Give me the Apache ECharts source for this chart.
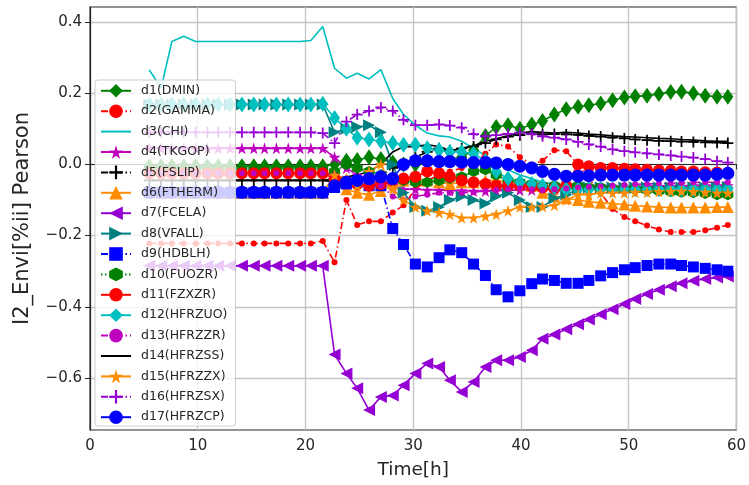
<!DOCTYPE html>
<html>
<head>
<meta charset="utf-8">
<script src="https://cdn.jsdelivr.net/npm/echarts@6/dist/echarts.min.js"></script>
<style>
  html, body { margin: 0; padding: 0; background: #ffffff; }
  #chart { width: 749px; height: 485px; }
</style>
</head>
<body>
<div id="chart"></div>
<script>
// Sampling times (hours)
const time = [5.5, 6.6, 7.6, 8.7, 9.8, 10.9, 11.9, 13.0, 14.1, 15.2, 16.2, 17.3, 18.4, 19.5, 20.5, 21.6,
  22.7, 23.8, 24.8, 25.9, 27.0, 28.1, 29.1, 30.2, 31.3, 32.4, 33.4, 34.5, 35.6, 36.7, 37.7, 38.8,
  39.9, 41.0, 42.0, 43.1, 44.2, 45.3, 46.3, 47.4, 48.5, 49.6, 50.6, 51.7, 52.8, 53.9, 54.9, 56.0,
  57.1, 58.2, 59.2];

const seriesNames = ['d1(DMIN)', 'd2(GAMMA)', 'd3(CHI)', 'd4(TKGOP)', 'd5(FSLIP)', 'd6(FTHERM)',
  'd7(FCELA)', 'd8(VFALL)', 'd9(HDBLH)', 'd10(FUOZR)', 'd11(FZXZR)', 'd12(HFRZUO)', 'd13(HFRZZR)',
  'd14(HFRZSS)', 'd15(HFRZZX)', 'd16(HFRZSX)', 'd17(HFRZCP)'];

// Pearson correlation of each driver with I2_Envi
const d1 = [-0.005, -0.005, -0.005, -0.005, -0.005, -0.005, -0.005, -0.005, -0.005, -0.005, -0.005, -0.005, -0.005, -0.005, -0.005, -0.005,
  0.0, 0.01, 0.012, 0.02, 0.015, 0.005, 0.0, 0.0, 0.005, 0.01, 0.015, 0.02, 0.04, 0.08, 0.105, 0.11,
  0.1, 0.112, 0.122, 0.14, 0.155, 0.162, 0.166, 0.171, 0.18, 0.188, 0.191, 0.193, 0.198, 0.203, 0.204, 0.2,
  0.193, 0.19, 0.19];
const d2 = [-0.222, -0.222, -0.222, -0.222, -0.222, -0.222, -0.222, -0.222, -0.222, -0.222, -0.222, -0.222, -0.222, -0.222, -0.222, -0.215,
  -0.275, -0.1, -0.17, -0.16, -0.16, -0.135, -0.115, -0.07, -0.045, -0.03, -0.02, -0.01, 0.0, 0.03, 0.056, 0.05,
  0.02, 0.0, 0.01, 0.04, 0.037, 0.0, -0.04, -0.08, -0.125, -0.148, -0.16, -0.172, -0.183, -0.19, -0.19, -0.19,
  -0.185, -0.178, -0.17];
const d3 = [0.265, 0.215, 0.345, 0.36, 0.345, 0.345, 0.345, 0.345, 0.345, 0.345, 0.345, 0.345, 0.345, 0.345, 0.348, 0.387,
  0.27, 0.242, 0.256, 0.24, 0.266, 0.185, 0.14, 0.11, 0.088, 0.08, 0.077, 0.065, 0.045, 0.025, 0.005, -0.015,
  -0.03, -0.04, -0.05, -0.055, -0.06, -0.062, -0.065, -0.066, -0.068, -0.068, -0.07, -0.07, -0.07, -0.07, -0.071, -0.071,
  -0.072, -0.072, -0.072];
const d4 = [0.045, 0.045, 0.045, 0.045, 0.045, 0.045, 0.045, 0.045, 0.045, 0.045, 0.045, 0.045, 0.045, 0.045, 0.045, 0.045,
  0.02, -0.01, -0.03, -0.04, -0.045, -0.06, -0.07, -0.07, -0.072, -0.072, -0.074, -0.074, -0.075, -0.075, -0.074, -0.073,
  -0.072, -0.072, -0.071, -0.07, -0.07, -0.068, -0.067, -0.066, -0.065, -0.064, -0.063, -0.062, -0.062, -0.061, -0.061, -0.06,
  -0.06, -0.06, -0.06];
const d5 = [-0.045, -0.045, -0.045, -0.045, -0.045, -0.045, -0.045, -0.045, -0.045, -0.045, -0.045, -0.045, -0.045, -0.045, -0.045, -0.045,
  -0.05, -0.045, -0.04, -0.035, -0.03, -0.01, 0.0, 0.02, 0.035, 0.045, 0.04, 0.045, 0.05, 0.06, 0.07, 0.078,
  0.082, 0.085, 0.085, 0.085, 0.084, 0.083, 0.08, 0.078, 0.075, 0.073, 0.07, 0.068, 0.066, 0.065, 0.064, 0.063,
  0.062, 0.061, 0.06];
const d6 = [-0.08, -0.08, -0.08, -0.08, -0.08, -0.08, -0.08, -0.08, -0.08, -0.08, -0.08, -0.08, -0.08, -0.08, -0.08, -0.08,
  -0.06, -0.07, -0.08, -0.085, -0.075, -0.05, -0.045, -0.04, -0.045, -0.05, -0.055, -0.05, -0.05, -0.045, -0.045, -0.05,
  -0.05, -0.06, -0.08, -0.09, -0.095, -0.1, -0.105, -0.108, -0.11, -0.113, -0.116, -0.118, -0.12, -0.121, -0.121, -0.121,
  -0.121, -0.12, -0.12];
const d7 = [-0.285, -0.285, -0.285, -0.285, -0.285, -0.285, -0.285, -0.285, -0.285, -0.285, -0.285, -0.285, -0.285, -0.285, -0.285, -0.285,
  -0.534, -0.587, -0.629, -0.69, -0.653, -0.649, -0.62, -0.587, -0.559, -0.569, -0.606, -0.639, -0.611, -0.569, -0.55, -0.55,
  -0.541, -0.522, -0.49, -0.478, -0.463, -0.449, -0.436, -0.421, -0.407, -0.392, -0.378, -0.364, -0.352, -0.342, -0.334, -0.327,
  -0.322, -0.318, -0.315];
const d8 = [0.168, 0.168, 0.168, 0.168, 0.168, 0.168, 0.168, 0.168, 0.168, 0.168, 0.168, 0.168, 0.168, 0.168, 0.168, 0.168,
  0.09, 0.1, 0.105, 0.11, 0.09, 0.0, -0.08, -0.12, -0.13, -0.12, -0.1, -0.09, -0.1, -0.11, -0.09, -0.08,
  -0.1, -0.12, -0.12, -0.095, -0.085, -0.07, -0.065, -0.065, -0.065, -0.065, -0.065, -0.065, -0.065, -0.065, -0.065, -0.065,
  -0.065, -0.065, -0.065];
const d9 = [-0.08, -0.08, -0.08, -0.08, -0.08, -0.08, -0.08, -0.08, -0.08, -0.08, -0.08, -0.08, -0.08, -0.08, -0.08, -0.08,
  -0.065, -0.055, -0.05, -0.06, -0.06, -0.18, -0.225, -0.28, -0.288, -0.262, -0.24, -0.248, -0.28, -0.312, -0.352, -0.372,
  -0.355, -0.335, -0.322, -0.326, -0.334, -0.334, -0.326, -0.313, -0.304, -0.296, -0.29, -0.284, -0.28, -0.28, -0.284, -0.288,
  -0.292, -0.296, -0.3];
const d10 = [-0.01, -0.01, -0.01, -0.01, -0.01, -0.01, -0.01, -0.01, -0.01, -0.01, -0.01, -0.01, -0.01, -0.01, -0.01, -0.01,
  -0.02, 0.0, -0.01, -0.02, -0.03, -0.04, -0.045, -0.05, -0.05, -0.045, -0.04, -0.035, -0.02, -0.015, -0.03, -0.045,
  -0.05, -0.055, -0.06, -0.06, -0.06, -0.06, -0.065, -0.065, -0.068, -0.07, -0.07, -0.072, -0.075, -0.077, -0.078, -0.08,
  -0.082, -0.085, -0.085];
const d11 = [-0.025, -0.025, -0.025, -0.025, -0.025, -0.025, -0.025, -0.025, -0.025, -0.025, -0.025, -0.025, -0.025, -0.025, -0.025, -0.025,
  -0.04, -0.05, -0.055, -0.06, -0.055, -0.045, -0.04, -0.035, -0.02, -0.025, -0.035, -0.045, -0.05, -0.055, -0.06, -0.06,
  -0.06, -0.062, -0.065, -0.068, -0.06, 0.0, -0.005, -0.01, -0.01, -0.012, -0.014, -0.015, -0.017, -0.018, -0.02, -0.02,
  -0.022, -0.023, -0.025];
const d12 = [0.168, 0.168, 0.168, 0.168, 0.168, 0.168, 0.168, 0.168, 0.168, 0.168, 0.168, 0.168, 0.168, 0.168, 0.168, 0.17,
  0.13, 0.1, 0.075, 0.07, 0.065, 0.06, 0.055, 0.055, 0.045, 0.04, 0.035, 0.035, 0.03, 0.01, -0.02, -0.04,
  -0.05, -0.055, -0.06, -0.065, -0.07, -0.07, -0.07, -0.07, -0.07, -0.07, -0.07, -0.07, -0.07, -0.07, -0.07, -0.07,
  -0.07, -0.07, -0.07];
const d13 = [-0.025, -0.025, -0.025, -0.025, -0.025, -0.025, -0.025, -0.025, -0.025, -0.025, -0.025, -0.025, -0.025, -0.025, -0.025, -0.025,
  -0.03, -0.04, -0.045, -0.05, -0.06, -0.09, -0.1, -0.09, -0.085, -0.08, -0.08, -0.08, -0.078, -0.075, -0.072, -0.07,
  -0.068, -0.07, -0.072, -0.07, -0.068, -0.065, -0.063, -0.062, -0.06, -0.058, -0.056, -0.055, -0.054, -0.053, -0.052, -0.051,
  -0.05, -0.05, -0.05];
const d14 = [-0.045, -0.045, -0.045, -0.045, -0.045, -0.045, -0.045, -0.045, -0.045, -0.045, -0.045, -0.045, -0.045, -0.045, -0.045, -0.045,
  -0.04, -0.035, -0.03, -0.02, 0.0, 0.035, 0.05, 0.05, 0.055, 0.05, 0.038, 0.045, 0.052, 0.065, 0.072, 0.08,
  0.088, 0.092, 0.09, 0.088, 0.09, 0.088, 0.085, 0.083, 0.08, 0.078, 0.077, 0.075, 0.073, 0.072, 0.07, 0.068,
  0.066, 0.065, 0.065];
const d15 = [-0.08, -0.08, -0.08, -0.08, -0.08, -0.08, -0.08, -0.08, -0.08, -0.08, -0.08, -0.08, -0.08, -0.08, -0.08, -0.08,
  -0.03, -0.04, -0.06, -0.02, 0.0, -0.07, -0.1, -0.12, -0.13, -0.135, -0.14, -0.15, -0.15, -0.145, -0.14, -0.13,
  -0.12, -0.12, -0.118, -0.115, -0.1, -0.085, -0.085, -0.08, -0.08, -0.08, -0.078, -0.078, -0.076, -0.075, -0.075, -0.076,
  -0.078, -0.08, -0.08];
const d16 = [0.09, 0.09, 0.09, 0.09, 0.09, 0.09, 0.09, 0.09, 0.09, 0.09, 0.09, 0.09, 0.09, 0.09, 0.09, 0.088,
  0.06, 0.12, 0.14, 0.15, 0.16, 0.15, 0.125, 0.11, 0.11, 0.112, 0.109, 0.103, 0.085, 0.079, 0.082, 0.086,
  0.089, 0.085, 0.079, 0.075, 0.07, 0.063, 0.056, 0.05, 0.042, 0.037, 0.034, 0.031, 0.028, 0.025, 0.022, 0.019,
  0.015, 0.009, 0.005];
const d17 = [-0.078, -0.078, -0.078, -0.078, -0.078, -0.078, -0.078, -0.078, -0.078, -0.078, -0.078, -0.078, -0.078, -0.078, -0.078, -0.078,
  -0.06, -0.05, -0.045, -0.04, -0.035, -0.04, 0.0, 0.01, 0.01, 0.008, 0.008, 0.006, 0.005, 0.005, 0.004, 0.0,
  -0.005, -0.01, -0.02, -0.028, -0.033, -0.033, -0.032, -0.03, -0.03, -0.03, -0.03, -0.03, -0.03, -0.03, -0.03, -0.03,
  -0.03, -0.028, -0.025];

const xTicks = [0, 10, 20, 30, 40, 50, 60];
const yTicks = [-0.6, -0.4, -0.2, 0.0, 0.2, 0.4];

// Marker shapes
const STAR = 'path://M50,0 L61,35 L98,35 L68,57 L79,91 L50,70 L21,91 L32,57 L2,35 L39,35 Z';
const PLUS = 'path://M42,0 H58 V42 H100 V58 H58 V100 H42 V58 H0 V42 H42 Z';
const HEX = 'path://M50,0 L93,25 L93,75 L50,100 L7,75 L7,25 Z';
const DASHDOT = [7, 3, 1.5, 3];
const DOTTED = [1.5, 2.5];

const styles = [
  { values: d1,  color: '#008000', symbol: 'diamond',  size: [11, 16], line: 'solid' },
  { values: d2,  color: '#ff0000', symbol: 'circle',   size: 6,        line: DASHDOT },
  { values: d3,  color: '#00bfbf', symbol: 'none',     size: 0,        line: 'solid' },
  { values: d4,  color: '#bf00bf', symbol: STAR,       size: 12,       line: 'solid' },
  { values: d5,  color: '#000000', symbol: PLUS,       size: 11,       line: DASHDOT },
  { values: d6,  color: '#ff8c00', symbol: 'triangle', size: 12,       line: 'solid' },
  { values: d7,  color: '#9400d3', symbol: 'triangle', size: 12,       line: 'solid', rotate: 90 },
  { values: d8,  color: '#008080', symbol: 'triangle', size: 12,       line: 'solid', rotate: -90 },
  { values: d9,  color: '#0000ff', symbol: 'rect',     size: 11,       line: DASHDOT },
  { values: d10, color: '#008000', symbol: HEX,        size: 11,       line: DOTTED },
  { values: d11, color: '#ff0000', symbol: 'circle',   size: 12,       line: 'solid' },
  { values: d12, color: '#00bfbf', symbol: 'diamond',  size: [11, 16], line: 'solid' },
  { values: d13, color: '#bf00bf', symbol: 'circle',   size: 6,        line: DASHDOT },
  { values: d14, color: '#000000', symbol: 'none',     size: 0,        line: 'solid' },
  { values: d15, color: '#ff8c00', symbol: STAR,       size: 12,       line: 'solid' },
  { values: d16, color: '#9400d3', symbol: PLUS,       size: 11,       line: DASHDOT },
  { values: d17, color: '#0000ff', symbol: 'circle',   size: 13,       line: 'solid' }
];

const series = styles.map((s, k) => {
  const plain = s.symbol === 'none';
  return {
    name: seriesNames[k],
    type: 'line',
    data: time.map((t, i) => [t, s.values[i]]),
    symbol: s.symbol,
    symbolSize: s.size,
    symbolRotate: s.rotate || 0,
    showSymbol: !plain,
    showAllSymbol: true,
    color: s.color,
    lineStyle: { color: s.color, width: 1.6, type: s.line },
    // plain lines get a transparent marker so their legend key is only a line
    itemStyle: { color: plain ? 'rgba(0,0,0,0)' : s.color, borderWidth: 0 },
    emphasis: { disabled: true },
    z: 2
  };
});

const fmtY = v => (v < 0 ? '\u2212' : '') + Math.abs(v).toFixed(1);
const FONT = 'DejaVu Sans';

const chart = echarts.init(document.getElementById('chart'), null, { renderer: 'canvas' });
chart.setOption({
  animation: false,
  backgroundColor: '#ffffff',
  grid: {
    left: 90, right: 10, top: 7, bottom: 53,
    show: true, borderColor: '#262626', borderWidth: 1.2, backgroundColor: '#ffffff'
  },
  xAxis: {
    type: 'value',
    min: 0, max: 60, interval: 10,
    name: 'Time[h]',
    nameLocation: 'middle',
    nameGap: 31,
    nameTextStyle: { fontFamily: FONT, fontSize: 18.5, color: '#262626' },
    axisLine: { show: true, lineStyle: { color: '#262626', width: 1.2 } },
    axisTick: { show: true, inside: false, length: 5, lineStyle: { color: '#262626' } },
    axisLabel: { fontFamily: FONT, fontSize: 15, color: '#262626', margin: 9,
      customValues: xTicks },
    splitLine: { show: true, lineStyle: { color: '#c4c4c4', width: 1.3 } }
  },
  yAxis: {
    type: 'value',
    min: -0.746, max: 0.442,
    name: 'I2_Envi[%ii] Pearson',
    nameLocation: 'middle',
    nameGap: 57,
    nameTextStyle: { fontFamily: FONT, fontSize: 21, color: '#262626' },
    axisLine: { show: true, lineStyle: { color: '#262626', width: 1.2 } },
    axisTick: { show: true, inside: false, length: 5, lineStyle: { color: '#262626' },
      customValues: yTicks },
    axisLabel: { fontFamily: FONT, fontSize: 15, color: '#262626', margin: 8,
      customValues: yTicks, formatter: fmtY },
    splitLine: { show: true, lineStyle: { color: '#c4c4c4', width: 1.3 } }
  },
  legend: {
    orient: 'vertical',
    left: 95, top: 80,
    padding: [4, 8, 2, 5],
    itemWidth: 30, itemHeight: 17, itemGap: 6.8,
    backgroundColor: 'rgba(255,255,255,0.8)',
    borderColor: '#cccccc', borderWidth: 1, borderRadius: 3,
    textStyle: { fontFamily: FONT, fontSize: 12.5, color: '#262626', padding: [0, 0, 0, 5] },
    selectedMode: false,
    data: seriesNames,
    z: 10
  },
  series: series
});
</script>
</body>
</html>
